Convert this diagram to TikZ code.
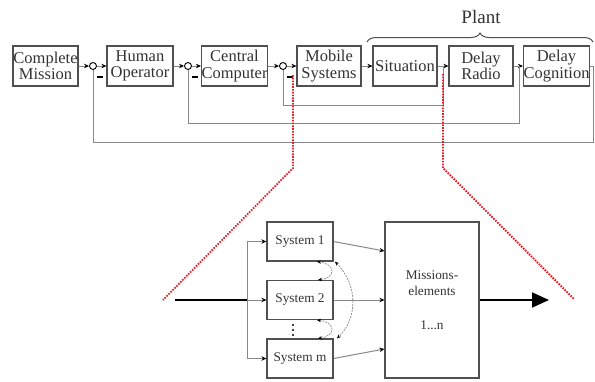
\documentclass[tikz,border=0pt]{standalone}
\usepackage{fontspec}
\setmainfont{Liberation Serif}
\usetikzlibrary{arrows.meta,decorations.pathreplacing}
\definecolor{boxc}{HTML}{505050}
\definecolor{linec}{HTML}{888888}
\definecolor{txtc}{HTML}{333333}
\definecolor{zred}{HTML}{E0202A}
\begin{document}
\begin{tikzpicture}[x=1pt,y=-1pt,
  blk/.style={draw=boxc, line width=1.2pt, text=txtc, align=center, inner sep=0pt, font=\fontsize{16.5}{16.5}\selectfont, minimum height=40pt},
  sumj/.style={circle, draw=black, line width=0.9pt, minimum size=7pt, inner sep=0pt},
  conn/.style={draw=linec, line width=1pt},
  arr/.style={conn, -{Stealth[length=5pt,width=4.5pt,color=black]}},
  sblk/.style={draw=boxc, line width=1.2pt, text=txtc, font=\fontsize{13.3}{15}\selectfont, minimum width=66pt, minimum height=39pt, inner sep=0pt},
  zoomline/.style={draw=zred, line width=1.8pt, dash pattern=on 1.6pt off 1.2pt},
  curv/.style={draw=linec, line width=0.7pt, dash pattern=on 2pt off 1pt, {Stealth[length=4pt,width=3.5pt,color=black]}-{Stealth[length=4pt,width=3.5pt,color=black]}}
]
\useasboundingbox (0,0) rectangle (595,381);

% top row
\node[blk, minimum width=65pt] (cm) at (45.5,66) {Complete\\Mission};
\node[blk, minimum width=66pt] (ho) at (140,66) {Human\\Operator};
\node[blk, minimum width=65pt] (cc) at (234.5,66) {Central\\Computer};
\node[blk, minimum width=64pt] (ms) at (329,66) {Mobile\\Systems};
\node[blk, minimum width=64pt] (sit) at (405,66) {Situation};
\node[blk, minimum width=64pt] (dr) at (481,66) {Delay\\Radio};
\node[blk, minimum width=63pt] (dc) at (556.5,66) {Delay\\Cognition};

\node[sumj] (s1) at (93,66) {};
\node[sumj] (s2) at (188,66) {};
\node[sumj] (s3) at (283,66) {};

\draw[arr] (cm) -- (s1);
\draw[arr] (s1) -- (ho);
\draw[arr] (ho) -- (s2);
\draw[arr] (s2) -- (cc);
\draw[arr] (cc) -- (s3);
\draw[arr] (s3) -- (ms);
\draw[arr] (ms) -- (sit);
\draw[arr] (sit) -- (dr);
\draw[arr] (dr) -- (dc);

% minus signs
\foreach \s in {s1,s2,s3}{
  \draw[black, line width=1.3pt] (\s) ++(4,11) -- ++(5.5,0);
}

% feedback
\coordinate (b1) at (443,66);
\coordinate (b2) at (519,66);
\coordinate (b3) at (593,66);
\draw[conn] (b1) -- ++(0,39) -| (s3.south);
\draw[conn] (b2) -- ++(0,57) -| (s2.south);
\draw[conn] (dc.east) -- (b3) -- ++(0,76) -| (s1.south);

% brace and Plant
\coordinate (brL) at (367,42);
\coordinate (brR) at (593,42);
\draw[draw=boxc, line width=1pt, decorate, decoration={brace, amplitude=9pt}] (brL) -- (brR);
\node[text=txtc, font=\fontsize{19}{20}\selectfont] (plant) at (481,17) {Plant};

% bottom diagram
\node[sblk] (sy1) at (300,241.5) {System 1};
\node[sblk] (sy2) at (300,300) {System 2};
\node[sblk] (sym) at (300,358.5) {System m};
\node[draw=boxc, line width=1.2pt, minimum width=94pt, minimum height=156pt, inner sep=0pt, text=txtc, font=\fontsize{13.3}{16}\selectfont, align=center] (me) at (432,300) {Missions-\\elements\\[18pt]1...n};

\coordinate (in) at (175,300);
\coordinate (sp) at (247,300);
\draw[black, line width=1.8pt] (in) -- (sp);
\draw[arr] (sp) |- (sy1.west);
\draw[arr] (sp) -- (sy2.west);
\draw[arr] (sp) |- (sym.west);

\draw[arr] (sy1.east) -- ([yshift=49pt]me.west);
\draw[arr] (sy2.east) -- (me.west);
\draw[arr] (sym.east) -- ([yshift=-49pt]me.west);

\coordinate (out) at (549,300);
\draw[black, line width=1.8pt, -{Triangle[length=17pt,width=15pt]}] (me.east) -- (out);

% vertical dots
\foreach \yy in {325,330,335}{ \fill[black] (293,\yy) circle (1.1pt); }

% curved dashed arrows
\draw[curv] ([xshift=17pt]sy1.south) .. controls (336,264) and (336,278) .. ([xshift=18pt]sy2.north);
\draw[curv] ([xshift=17pt]sy2.south) .. controls (336,322) and (336,336) .. ([xshift=18pt]sym.north);
\draw[curv] ([xshift=35pt]sy1.south) .. controls (358,285) and (358,318) .. ([xshift=37pt]sym.north);

% red zoom lines
\coordinate (r1a) at (293,75);
\coordinate (r1b) at (293,168);
\coordinate (r1c) at (163,300);
\coordinate (r2a) at (443,74);
\coordinate (r2b) at (443,168);
\coordinate (r2c) at (574,299);
\draw[zoomline] (r1a) -- (r1b) -- (r1c);
\draw[zoomline] (r2a) -- (r2b) -- (r2c);
\end{tikzpicture}
\end{document}
